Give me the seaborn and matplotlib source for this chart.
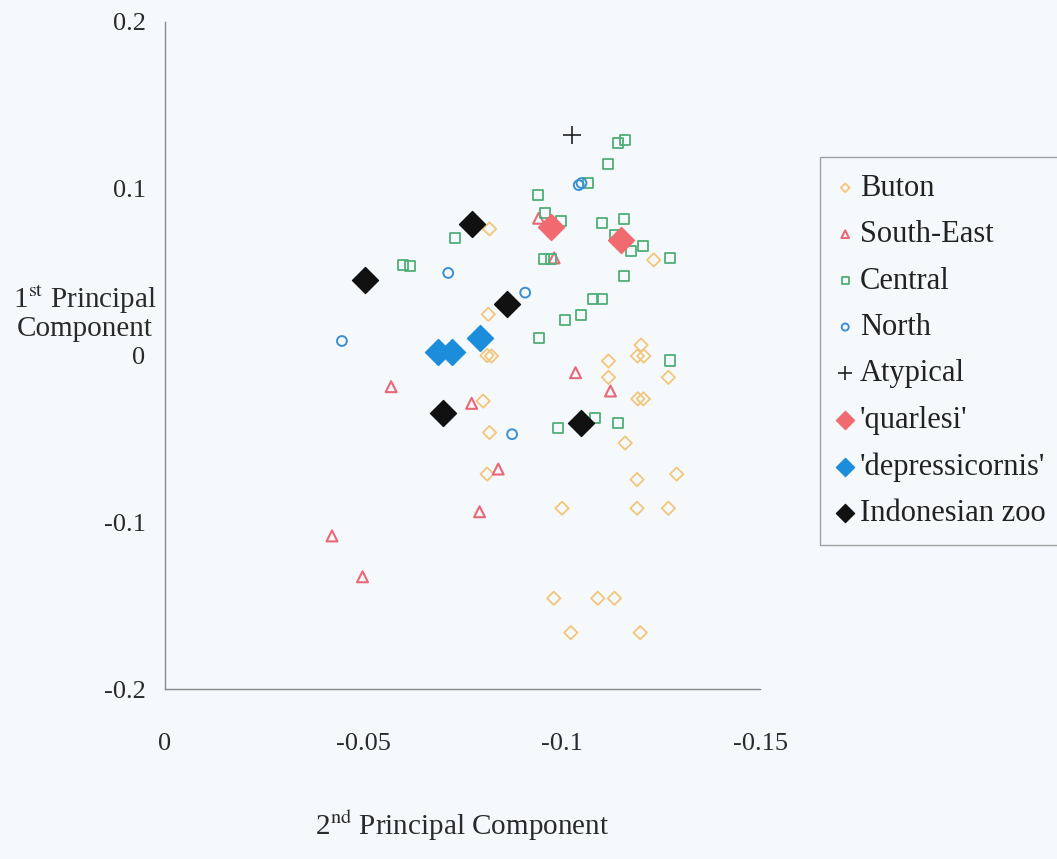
import matplotlib
matplotlib.use("Agg")
import matplotlib.pyplot as plt
import seaborn as sns
import pandas as pd

# PCA scores: (2nd component, 1st component) per specimen group
buton_pc2 = [-0.0818, -0.0815, -0.0812, -0.0823, -0.1200, -0.1191, -0.1207, -0.1118, -0.1232,
             -0.1118, -0.1269, -0.1192, -0.1206, -0.0802, -0.0818, -0.1160, -0.0812, -0.1190,
             -0.1290, -0.1001, -0.1190, -0.1269, -0.0980, -0.1091, -0.1133, -0.1023, -0.1198]
buton_pc1 = [0.0759, 0.0247, 0.0000, -0.0003, 0.0063, -0.0003, -0.0003, -0.0033, 0.0573,
             -0.0131, -0.0131, -0.0260, -0.0260, -0.0273, -0.0462, -0.0525, -0.0711, -0.0744,
             -0.0711, -0.0916, -0.0916, -0.0916, -0.1456, -0.1456, -0.1456, -0.1662, -0.1662]

southeast_pc2 = [-0.0942, -0.0981, -0.1035, -0.1123, -0.0570, -0.0773, -0.0840, -0.0793, -0.0421, -0.0498]
southeast_pc1 = [0.0823, 0.0585, -0.0103, -0.0213, -0.0187, -0.0287, -0.0681, -0.0937, -0.1082, -0.1327]

central_pc2 = [-0.0601, -0.0618, -0.0731, -0.0940, -0.0959, -0.0999, -0.0955, -0.0972, -0.1066,
               -0.1116, -0.1143, -0.1159, -0.1101, -0.1158, -0.1135, -0.1175, -0.1204, -0.1273,
               -0.1158, -0.1079, -0.1101, -0.1008, -0.1048, -0.0943, -0.1273, -0.0991, -0.1085,
               -0.1141]
central_pc1 = [0.0543, 0.0537, 0.0706, 0.0963, 0.0855, 0.0807, 0.0580, 0.0580, 0.1036,
               0.1148, 0.1273, 0.1292, 0.0793, 0.0817, 0.0723, 0.0628, 0.0658, 0.0583,
               0.0474, 0.0337, 0.0337, 0.0215, 0.0240, 0.0105, -0.0030, -0.0433, -0.0373,
               -0.0407]

north_pc2 = [-0.0446, -0.0714, -0.0908, -0.0875, -0.1043, -0.1050]
north_pc1 = [0.0087, 0.0495, 0.0377, -0.0472, 0.1022, 0.1034]

atypical_pc2 = [-0.1026]
atypical_pc1 = [0.1322]

quarlesi_pc2 = [-0.0973, -0.1150]
quarlesi_pc1 = [0.0772, 0.0690]

depress_pc2 = [-0.0687, -0.0723, -0.0795]
depress_pc1 = [0.0023, 0.0023, 0.0103]

zoo_pc2 = [-0.0503, -0.0775, -0.0863, -0.0701, -0.1049]
zoo_pc1 = [0.0453, 0.0789, 0.0309, -0.0342, -0.0403]

group_names = ["Buton", "South-East", "Central", "North", "Atypical",
               "'quarlesi'", "'depressicornis'", "Indonesian zoo"]

x_ticks = [0, -0.05, -0.1, -0.15]
x_tick_labels = ["0", "-0.05", "-0.1", "-0.15"]
y_ticks = [0.2, 0.1, 0, -0.1, -0.2]
y_tick_labels = ["0.2", "0.1", "0", "-0.1", "-0.2"]

frames = []
for name, xs, ys in zip(group_names,
                        [buton_pc2, southeast_pc2, central_pc2, north_pc2, atypical_pc2,
                         quarlesi_pc2, depress_pc2, zoo_pc2],
                        [buton_pc1, southeast_pc1, central_pc1, north_pc1, atypical_pc1,
                         quarlesi_pc1, depress_pc1, zoo_pc1]):
    frames.append(pd.DataFrame({"pc2": xs, "pc1": ys, "group": name}))
df = pd.concat(frames, ignore_index=True)

# marker, size, colour, hollow?, legend marker size
styles = {
    "Buton":            dict(marker="D", s=46,  color="#f2c67a", hollow=True,  lw=1.3, ls=20),
    "South-East":       dict(marker="^", s=62,  color="#e86878", hollow=True,  lw=1.5, ls=30),
    "Central":          dict(marker="s", s=52,  color="#4fae78", hollow=True,  lw=1.3, ls=26),
    "North":            dict(marker="o", s=50,  color="#3a8fd6", hollow=True,  lw=1.4, ls=26),
    "Atypical":         dict(marker="+", s=150, color="#222222", hollow=False, lw=1.2, ls=90),
    "'quarlesi'":       dict(marker="D", s=175, color="#f06a70", hollow=False, lw=1.0, ls=85),
    "'depressicornis'": dict(marker="D", s=175, color="#1c8ddb", hollow=False, lw=1.0, ls=85),
    "Indonesian zoo":   dict(marker="D", s=175, color="#111111", hollow=False, lw=1.0, ls=85),
}

sns.set_theme(style="white")
bg = "#f6f9fb"
plt.rcParams["font.family"] = ["Liberation Serif", "DejaVu Serif"]
plt.rcParams["mathtext.fontset"] = "stix"

fig = plt.figure(figsize=(10.57, 8.59), dpi=100, facecolor=bg)
ax = fig.add_axes([165 / 1057, 1 - 689 / 859, (760 - 165) / 1057, (689 - 22) / 859])
ax.set_facecolor(bg)

for name in group_names:
    st = styles[name]
    sub = df[df["group"] == name]
    kw = dict(marker=st["marker"], s=st["s"], linewidth=st["lw"], label=name, zorder=3)
    if st["hollow"]:
        kw.update(facecolor="none", edgecolor=st["color"])
    elif st["marker"] == "+":
        kw.update(color=st["color"])
    else:
        kw.update(color=st["color"], edgecolor=st["color"])
    sns.scatterplot(data=sub, x="pc2", y="pc1", ax=ax, legend=False, **kw)

ax.set_xlim(0, -0.15)
ax.set_ylim(-0.2, 0.2)
ax.set_xticks(x_ticks)
ax.set_xticklabels(x_tick_labels)
ax.set_yticks(y_ticks)
ax.set_yticklabels(y_tick_labels)
ax.tick_params(axis="both", which="major", direction="out", length=6, width=1,
               color="#8a8a8a", labelsize=19, labelcolor="#2a2a2a")
ax.tick_params(axis="x", pad=26)
ax.tick_params(axis="y", pad=8)
for side in ["top", "right"]:
    ax.spines[side].set_visible(False)
for side in ["left", "bottom"]:
    ax.spines[side].set_color("#8a8a8a")
    ax.spines[side].set_linewidth(1.0)
ax.set_xlabel("")
ax.set_ylabel("")

fig.text(462 / 1057, 1 - 826 / 859, r"2$^{\mathrm{nd}}$ Principal Component",
         ha="center", va="center", fontsize=21, color="#2a2a2a")
fig.text(85 / 1057, 1 - 313 / 859, "1$^{\\mathrm{st}}$ Principal\nComponent",
         ha="center", va="center", fontsize=21, color="#2a2a2a",
         multialignment="center", linespacing=1.0)

handles = ax.collections
leg = fig.legend(handles, group_names, loc="upper left",
                 bbox_to_anchor=(820 / 1057, 1 - 157 / 859),
                 bbox_transform=fig.transFigure,
                 fontsize=22, frameon=True, fancybox=False, borderpad=0.55,
                 labelspacing=0.57, handlelength=0.55, handletextpad=0.2,
                 borderaxespad=0.0, scatterpoints=1)
leg.get_frame().set_edgecolor("#8a8a8a")
leg.get_frame().set_facecolor(bg)
leg.get_frame().set_linewidth(1.0)
for h, name in zip(leg.legend_handles, group_names):
    h.set_sizes([styles[name]["ls"]])
for t in leg.get_texts():
    t.set_color("#222222")

fig.savefig("out.png", dpi=100, facecolor=bg)
